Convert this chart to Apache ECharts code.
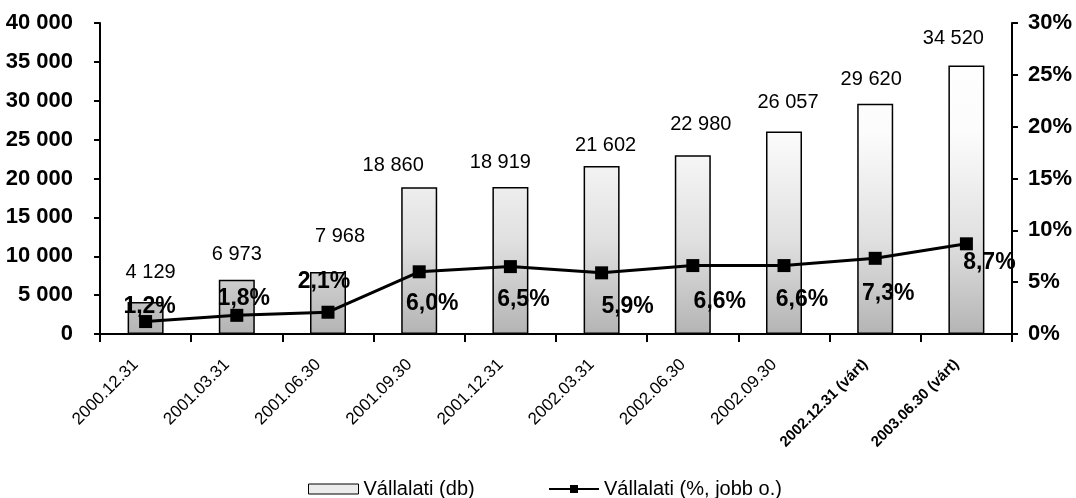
<!DOCTYPE html>
<html>
<head>
<meta charset="utf-8">
<script src="https://cdn.jsdelivr.net/npm/echarts@6/dist/echarts.min.js"></script>
<style>
html,body{margin:0;padding:0;background:#fff;}
#chart{width:1076px;height:498px;}
</style>
</head>
<body>
<div id="chart"></div>
<script>
// ---- data ----
const categories = ['2000.12.31','2001.03.31','2001.06.30','2001.09.30','2001.12.31','2002.03.31','2002.06.30','2002.09.30','2002.12.31 (várt)','2003.06.30 (várt)'];
const countValues = [4129, 6973, 7968, 18860, 18919, 21602, 22980, 26057, 29620, 34520];
const shareValues = [1.2, 1.8, 2.1, 6.0, 6.5, 5.9, 6.6, 6.6, 7.3, 8.7];
const leftTicks = [0, 5000, 10000, 15000, 20000, 25000, 30000, 35000, 40000];
const rightTicks = [0, 5, 10, 15, 20, 25, 30];
const barName = 'Vállalati (db)';
const lineName = 'Vállalati (%, jobb o.)';

// ---- label placement (style only) ----
const barLabelShift = [[5,29],[0,25],[12,36],[-26,21.5],[-10,24],[4,20.5],[8,31],[4,29],[-4,24.5],[-13,27.5]];
const lineLabelShift = [[4,-15],[7,-17],[-4,-31],[13,32],[13,33],[26,34],[27,36],[18,34],[13,35],[23,19]];

const FONT = "'Liberation Sans', Arial, sans-serif";

function fmtThousands(v){ return String(v).replace(/\B(?=(\d{3})+(?!\d))/g, ' '); }
function fmtPct(v){ return v.toFixed(1).replace('.', ',') + '%'; }

const barFill = {
  type: 'linear', x: 0, y: 23, x2: 0, y2: 334, global: true,
  colorStops: [{offset: 0, color: '#ffffff'}, {offset: 0.35, color: '#fcfcfc'}, {offset: 0.7, color: '#e0e0e0'}, {offset: 1, color: '#b4b4b4'}]
};
const legendFill = '#ececec';

const chart = echarts.init(document.getElementById('chart'), null, {renderer: 'canvas'});
chart.setOption({
  animation: false,
  backgroundColor: '#ffffff',
  grid: {left: 100, right: 64, top: 23, bottom: 164},
  legend: [
    {
      left: 308, top: 479, padding: 0, itemWidth: 50, itemHeight: 10, itemGap: 0,
      textStyle: {fontFamily: FONT, fontSize: 20, color: '#000'},
      data: [{name: barName, icon: 'rect', itemStyle: {color: legendFill, borderColor: '#000', borderWidth: 1}}]
    },
    {
      left: 548, top: 479, padding: 0, itemWidth: 50, itemHeight: 10, itemGap: 0,
      textStyle: {fontFamily: FONT, fontSize: 20, color: '#000'},
      data: [{name: lineName}]
    }
  ],
  xAxis: {
    type: 'category',
    data: categories,
    boundaryGap: true,
    axisLine: {lineStyle: {color: '#000', width: 2}},
    axisTick: {show: true, alignWithLabel: false, length: 8, lineStyle: {color: '#000', width: 2}},
    axisLabel: {
      interval: 0, rotate: 45, margin: 28, padding: [0, 7, 14, 0],
      fontFamily: FONT, fontSize: 17, color: '#000',
      formatter: function(v){ return v.indexOf('várt') >= 0 ? '{b|' + v + '}' : v; },
      rich: {b: {fontFamily: FONT, fontSize: 15, fontWeight: 'bold', color: '#000'}}
    }
  },
  yAxis: [
    {
      type: 'value', min: leftTicks[0], max: leftTicks[leftTicks.length-1],
      interval: leftTicks[1] - leftTicks[0],
      splitLine: {show: false},
      axisLine: {show: true, lineStyle: {color: '#000', width: 2}},
      axisTick: {show: true, length: 6, lineStyle: {color: '#000', width: 2}},
      axisLabel: {fontFamily: FONT, fontSize: 22, fontWeight: 'bold', color: '#000', margin: 27,
        formatter: function(v){ return fmtThousands(v); }}
    },
    {
      type: 'value', position: 'right', min: rightTicks[0], max: rightTicks[rightTicks.length-1],
      interval: rightTicks[1] - rightTicks[0],
      splitLine: {show: false},
      axisLine: {show: true, lineStyle: {color: '#000', width: 2}},
      axisTick: {show: true, length: 6, lineStyle: {color: '#000', width: 2}},
      axisLabel: {fontFamily: FONT, fontSize: 22, fontWeight: 'bold', color: '#000', margin: 16,
        formatter: function(v){ return v + '%'; }}
    }
  ],
  series: [
    {
      name: barName, type: 'bar', yAxisIndex: 0, barWidth: 36,
      itemStyle: {color: barFill, borderColor: '#000', borderWidth: 1.5},
      data: countValues.map(function(v, i){
        return {value: v, label: {offset: [barLabelShift[i][0], -(barLabelShift[i][1] - 10)]}};
      }),
      label: {
        show: true, position: 'top', distance: 0,
        fontFamily: FONT, fontSize: 20, color: '#000',
        formatter: function(p){ return fmtThousands(p.value); }
      },
      z: 2
    },
    {
      name: lineName, type: 'line', yAxisIndex: 1,
      symbol: 'rect', symbolSize: 13,
      lineStyle: {color: '#000', width: 3},
      itemStyle: {color: '#000'},
      data: shareValues.map(function(v, i){
        return {value: v, label: {offset: lineLabelShift[i]}};
      }),
      label: {
        show: true, position: 'inside',
        fontFamily: FONT, fontSize: 23, fontWeight: 'bold', color: '#000',
        formatter: function(p){ return fmtPct(p.value); }
      },
      z: 5
    }
  ]
});
</script>
</body>
</html>
